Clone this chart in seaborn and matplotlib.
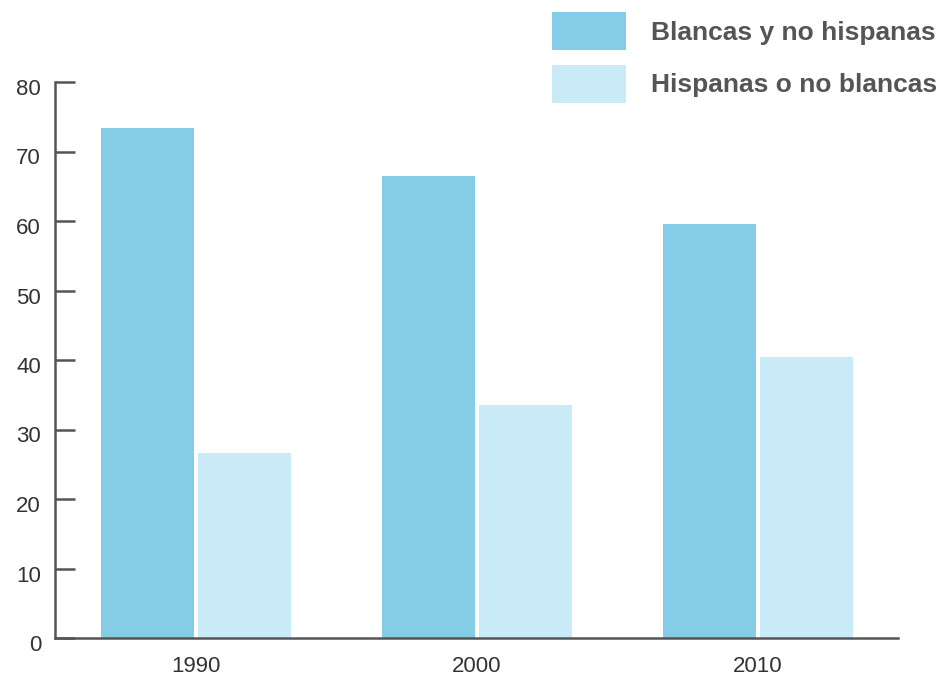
import matplotlib
matplotlib.use("Agg")
import matplotlib.pyplot as plt
import matplotlib.transforms as mtransforms
import seaborn as sns
import pandas as pd

years = ["1990", "2000", "2010"]
series_names = ["Blancas y no hispanas", "Hispanas o no blancas"]
blancas = [73.4, 66.5, 59.5]
hispanas = [26.6, 33.5, 40.5]
yticks = [0, 10, 20, 30, 40, 50, 60, 70, 80]
colors = ["#85cce6", "#c8ebf7"]

df = pd.DataFrame({
    "year": years * 2,
    "value": blancas + hispanas,
    "group": [series_names[0]] * 3 + [series_names[1]] * 3,
})

sns.set_theme(style="white")
plt.rcParams["font.family"] = ["Liberation Sans", "DejaVu Sans"]

W, H = 941, 679
fig = plt.figure(figsize=(W / 100, H / 100), dpi=100)
ax = fig.add_axes([55 / W, 1 - 638 / H, (898 - 55) / W, (638 - 82) / H])

sns.barplot(data=df, x="year", y="value", hue="group", order=years,
            hue_order=series_names, palette=colors, saturation=1,
            width=0.69, gap=0.04, linewidth=0, ax=ax)

ax.set_xlim(-0.502, 2.5)
ax.set_ylim(0, 80)
ax.set_yticks(yticks)
ax.set_xlabel("")
ax.set_ylabel("")
for s in ["top", "right"]:
    ax.spines[s].set_visible(False)
for s in ["left", "bottom"]:
    ax.spines[s].set_color("#555555")
    ax.spines[s].set_linewidth(1.8)
ax.tick_params(axis="y", direction="in", length=14.5, width=1.8, color="#555555",
               labelsize=16, labelcolor="#333333", pad=10, left=True)
ax.tick_params(axis="x", length=0, labelsize=16, labelcolor="#333333", pad=13)

offset = mtransforms.ScaledTranslation(0, -5 / 100, fig.dpi_scale_trans)
for lab in ax.get_yticklabels():
    lab.set_transform(lab.get_transform() + offset)

ax.legend_.remove()
handles, labels = ax.get_legend_handles_labels()
leg = fig.legend(handles, labels, loc="upper left",
                 bbox_to_anchor=(552 / W, 1 - 12 / H),
                 frameon=False, prop={"weight": "bold", "size": 19},
                 handlelength=2.8, handleheight=1.85, handletextpad=0.95,
                 labelspacing=0.55, borderpad=0, borderaxespad=0)
for t in leg.get_texts():
    t.set_color("#555555")

fig.savefig("out.png", dpi=100)
